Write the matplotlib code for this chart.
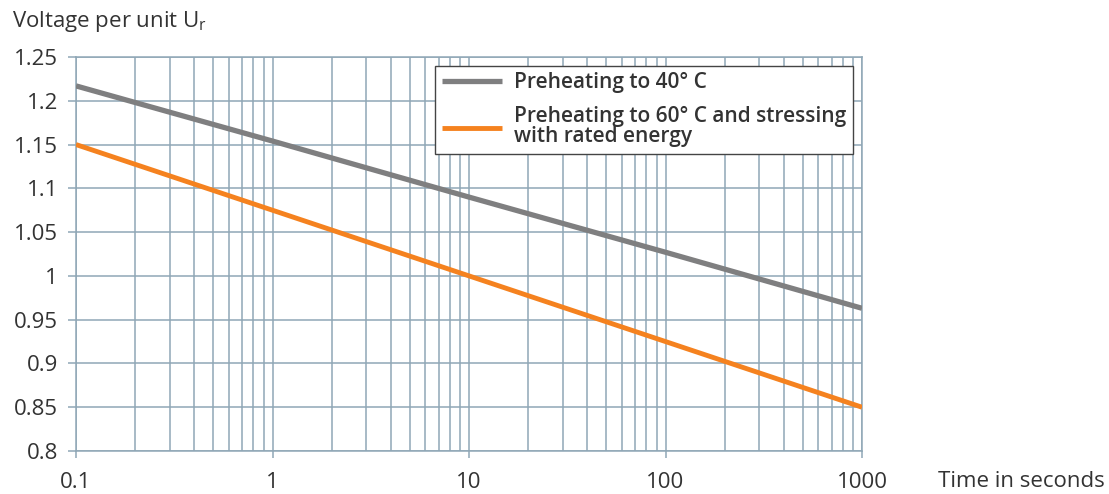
import matplotlib
matplotlib.use("Agg")
import matplotlib.pyplot as plt
from matplotlib.ticker import NullFormatter, LogLocator

plt.rcParams['font.family'] = ['Open Sans', 'DejaVu Sans']

time_s = [0.1, 1, 10, 100, 1000]
v_40c = [1.217, 1.154, 1.090, 1.027, 0.963]
v_60c = [1.150, 1.075, 1.000, 0.925, 0.850]
label_40c = "Preheating to 40° C"
label_60c = "Preheating to 60° C and stressing\nwith rated energy"
y_ticks = [0.8, 0.85, 0.9, 0.95, 1.0, 1.05, 1.1, 1.15, 1.2, 1.25]
x_ticks = [0.1, 1, 10, 100, 1000]
x_ticklabels = ["0.1", "1", "10", "100", "1000"]

grid_c = "#8fa7b6"
text_c = "#333333"

fig = plt.figure(figsize=(11.09, 4.94), dpi=100)
ax = fig.add_axes([76/1109, 1-451/494, (862-76)/1109, (451-57)/494])

ax.plot(time_s, v_40c, color="#7f7f80", lw=3.8, solid_capstyle="butt", zorder=3, label=label_40c)
ax.plot(time_s, v_60c, color="#f5821f", lw=3.5, solid_capstyle="butt", zorder=3, label=label_60c)

ax.set_xscale("log")
ax.set_xlim(0.1, 1000)
ax.set_ylim(0.8, 1.25)
ax.set_xticks(x_ticks)
ax.set_xticklabels(x_ticklabels)
ax.xaxis.set_minor_locator(LogLocator(base=10, subs=range(2, 10), numticks=20))
ax.xaxis.set_minor_formatter(NullFormatter())
ax.set_yticks(y_ticks)
ax.set_yticklabels([f"{v:g}" for v in y_ticks])

ax.grid(True, which="major", color=grid_c, lw=1.1)
ax.grid(True, which="minor", axis="x", color=grid_c, lw=1.1)
for s in ax.spines.values():
    s.set_color(grid_c)
    s.set_linewidth(1.1)

ax.tick_params(axis="x", which="major", length=5, width=1.1, color=grid_c, pad=10, labelsize=16, labelcolor=text_c)
ax.tick_params(axis="x", which="minor", length=0)
ax.tick_params(axis="y", which="major", length=6, width=1.1, color=grid_c, pad=7, labelsize=16, labelcolor=text_c)

fig.text(12/1109, 1-22/494, "Voltage per unit U$_\\mathregular{r}$", fontsize=16, color=text_c, va="center", ha="left")
fig.text(1105/1109, 1-481/494, "Time in seconds", fontsize=16, color=text_c, va="center", ha="right")

leg = ax.legend(loc="upper right", bbox_to_anchor=(853/1109, 1-66/494), bbox_transform=fig.transFigure,
                borderaxespad=0,
                frameon=True, fancybox=False, framealpha=1, edgecolor="#444444",
                handlelength=2.9, handletextpad=0.6, borderpad=0.3, labelspacing=0.62,
                prop={"size": 15, "weight": "semibold"})
leg.get_frame().set_linewidth(1.0)
for t in leg.get_texts():
    t.set_color(text_c)
    t.set_linespacing(0.95)
leg.set_zorder(5)

fig.savefig("out.png", dpi=100)
